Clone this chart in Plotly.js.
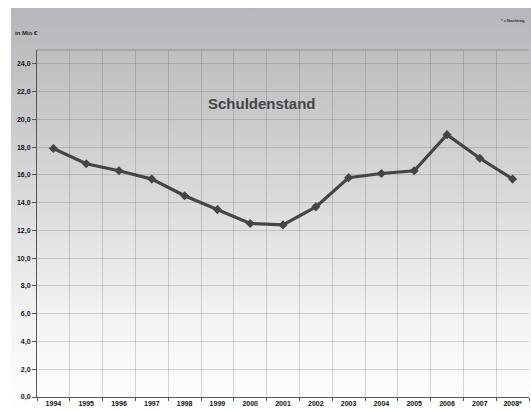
<!DOCTYPE html>
<html><head><meta charset="utf-8">
<script src="https://cdn.plot.ly/plotly-3.0.1.min.js"></script>
<style>
html,body{margin:0;padding:0;background:#fff;}
#bg{position:absolute;left:11px;top:8px;width:520px;height:404px;
background:linear-gradient(to bottom,#b5b7ba 0%,#c6c8ca 25%,#dcdddf 50%,#f2f2f2 75%,#ffffff 100%);}
#chart{position:absolute;left:0;top:0;width:531px;height:412px;}
</style></head>
<body><div id="bg"></div><div id="chart"></div>
<script>
const years = ["1994","1995","1996","1997","1998","1999","2000","2001","2002","2003","2004","2005","2006","2007","2008*"];
const debt = [17.9,16.8,16.3,15.7,14.5,13.5,12.5,12.4,13.7,15.8,16.1,16.3,18.9,17.2,15.7];
const yTicks = [0,2,4,6,8,10,12,14,16,18,20,22,24];
const titleText = "Schuldenstand";
const unitText = "in Mio €";
const noteText = "* = Nachtrag";

const fontFam = "Liberation Sans, Arial, sans-serif";
Plotly.newPlot("chart",[{
  x: years, y: debt, type:"scatter", mode:"lines+markers",
  line:{color:"#454545", width:3.2},
  marker:{symbol:"diamond", size:7, color:"#454545"},
  hoverinfo:"skip"
}],{
  width:531, height:412,
  margin:{l:37,r:2,t:50,b:15},
  paper_bgcolor:"rgba(0,0,0,0)", plot_bgcolor:"rgba(0,0,0,0)",
  separators:",.",
  showlegend:false,
  xaxis:{type:"category", range:[-0.5,14.5], tickson:"boundaries",
    showgrid:true, gridcolor:"rgba(90,90,90,0.25)", gridwidth:1,
    showline:true, linecolor:"#555", linewidth:1,
    ticks:"outside", ticklen:3, tickcolor:"#555",
    tickfont:{family:fontFam, size:7, color:"#111", weight:"bold"},
    fixedrange:true},
  yaxis:{range:[0,25], tickvals:yTicks, tickformat:".1f",
    showgrid:true, gridcolor:"rgba(90,90,90,0.25)", gridwidth:1,
    showline:true, linecolor:"#555", linewidth:1,
    ticks:"outside", ticklen:4, tickcolor:"#555",
    tickfont:{family:fontFam, size:7, color:"#111", weight:"bold"},
    zeroline:false, fixedrange:true},
  shapes:[{type:"line", xref:"paper", yref:"paper", x0:0, x1:1, y0:1, y1:1, line:{color:"rgba(90,90,90,0.45)", width:1}}],
  annotations:[
    {text:titleText, xref:"paper", yref:"paper", x:0.458, y:0.845, xanchor:"center", yanchor:"middle", showarrow:false,
     font:{family:fontFam, size:15, color:"#454545", weight:"bold"}},
    {text:unitText, xref:"paper", yref:"paper", x:-0.049, y:1.05, xanchor:"left", yanchor:"middle", showarrow:false,
     font:{family:fontFam, size:6, color:"#222", weight:"bold"}},
    {text:noteText, xref:"paper", yref:"paper", x:0.995, y:1.085, xanchor:"right", yanchor:"middle", showarrow:false,
     font:{family:fontFam, size:4, color:"#333", weight:"bold"}}
  ]
},{staticPlot:true});
</script></body></html>
